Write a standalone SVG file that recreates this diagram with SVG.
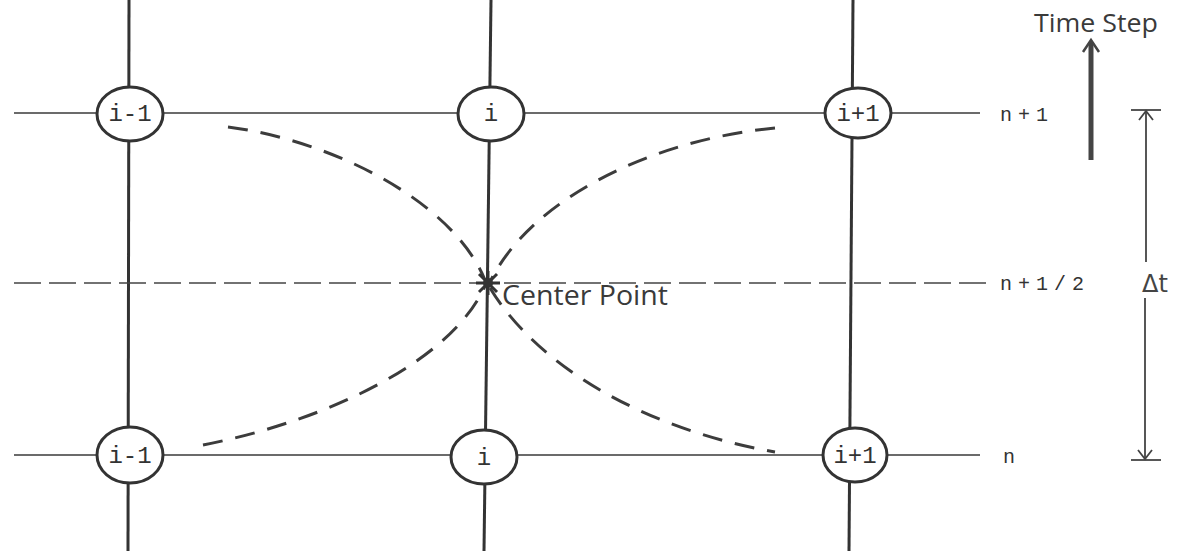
<svg xmlns="http://www.w3.org/2000/svg" width="1184" height="551" viewBox="0 0 1184 551">
<style>
.bg{fill:#fff}
.grid{stroke:#3a3a3a;stroke-width:1.6;fill:none}
.vert{stroke:#333;stroke-width:3;fill:none}
.half{stroke:#444;stroke-width:1.6;fill:none;stroke-dasharray:27 8}
.curve{stroke:#3c3c3c;stroke-width:3;fill:none;stroke-dasharray:20 13}
.node{fill:#fff;stroke:#333;stroke-width:3}
.nlab{font-family:"Liberation Mono",monospace;font-size:24px;fill:#333;text-anchor:middle}
.rlab{font-family:"Liberation Mono",monospace;font-size:20px;fill:#333;letter-spacing:6px}
.sans{font-family:"Open Sans","Liberation Sans",sans-serif;fill:#3a3a3a}
.dim{stroke:#444;stroke-width:1.8;fill:none}
</style>
<rect class="bg" x="0" y="0" width="1184" height="551"/>
<g id="connectors">
<path class="vert" d="M129,0 L128,551"/>
<path class="vert" d="M491,0 L484,551"/>
<path class="vert" d="M853,0 L849,551"/>
<path class="grid" d="M14,113 L980,113"/>
<path class="grid" d="M14,455 L980,455"/>
<path class="half" d="M14,283 L990,283"/>
<path class="curve" d="M228,127 C330,140 452,200 485,280"/>
<path class="curve" d="M775,128 C650,140 530,200 490,282"/>
<path class="curve" d="M203,445 C330,420 452,360 485,286"/>
<path class="curve" d="M490,288 C540,370 650,430 775,452"/>
</g>
<g id="node-top-im1"><ellipse class="node" cx="130" cy="114" rx="33" ry="27"/><text class="nlab" x="130" y="121">i-1</text></g>
<g id="node-top-i"><ellipse class="node" cx="491" cy="114" rx="33" ry="27"/><text class="nlab" x="491" y="121">i</text></g>
<g id="node-top-ip1"><ellipse class="node" cx="858" cy="113" rx="33" ry="25"/><text class="nlab" x="858" y="121">i+1</text></g>
<g id="node-bot-im1"><ellipse class="node" cx="130" cy="455" rx="33" ry="28"/><text class="nlab" x="130" y="463">i-1</text></g>
<g id="node-bot-i"><ellipse class="node" cx="484" cy="457" rx="33" ry="27"/><text class="nlab" x="484" y="465">i</text></g>
<g id="node-bot-ip1"><ellipse class="node" cx="855" cy="455" rx="32" ry="27"/><text class="nlab" x="855" y="463">i+1</text></g>
<g id="center-point">
<g stroke="#333" stroke-width="3">
<line x1="476" y1="283" x2="500" y2="283"/>
<line x1="488" y1="271" x2="488" y2="295"/>
<line x1="479" y1="274" x2="497" y2="292"/>
<line x1="497" y1="274" x2="479" y2="292"/>
</g>
<circle cx="488" cy="283" r="5" fill="#333"/>
<text class="sans" x="502" y="305" font-size="27" textLength="166" lengthAdjust="spacingAndGlyphs">Center Point</text>
</g>
<g id="row-labels">
<text class="rlab" x="1000" y="121">n+1</text>
<text class="rlab" x="1000" y="290">n+1/2</text>
<text class="rlab" x="1003" y="463">n</text>
</g>
<g id="time-step">
<text class="sans" x="1034" y="32" font-size="25" font-weight="500" textLength="124" lengthAdjust="spacingAndGlyphs">Time Step</text>
<line x1="1091" y1="160" x2="1091" y2="42" stroke="#444" stroke-width="5"/>
<path d="M1083,52 L1091,40 L1099,52" fill="none" stroke="#444" stroke-width="2.5"/>
</g>
<g id="delta-t">
<line class="dim" x1="1131" y1="110" x2="1161" y2="110"/>
<line class="dim" x1="1131" y1="460" x2="1161" y2="460"/>
<line class="dim" x1="1146" y1="111" x2="1146" y2="262"/>
<line class="dim" x1="1145" y1="298" x2="1145" y2="459"/>
<path class="dim" d="M1139,120 L1146,111 L1153,120"/>
<path class="dim" d="M1138,450 L1145,459 L1152,450"/>
<text x="1142" y="292" font-family="DejaVu Sans,sans-serif" font-size="24" fill="#444">Δt</text>
</g>
</svg>
